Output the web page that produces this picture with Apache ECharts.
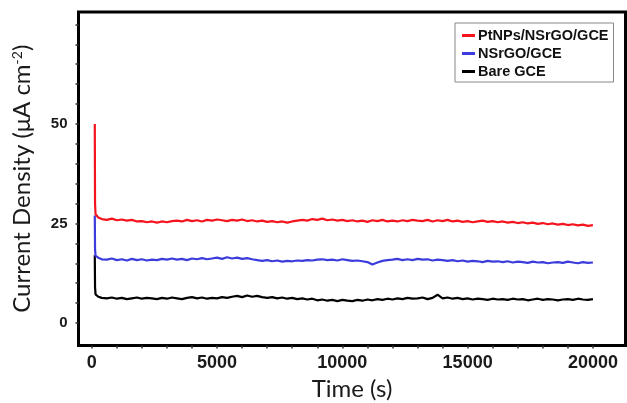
<!DOCTYPE html>
<html>
<head>
<meta charset="utf-8">
<script src="https://cdn.jsdelivr.net/npm/echarts@6/dist/echarts.min.js"></script>
<style>
html,body{margin:0;padding:0;background:#fff;}
#chart{width:627px;height:403px;}
</style>
</head>
<body>
<div id="chart"></div>
<script>
// Time (s)
var times = [120,130,150,200,260,330,400,
  600,800,1000,1200,1400,1600,1800,2000,2200,2400,
  2600,2800,3000,3200,3400,3600,3800,4000,4200,4400,
  4600,4800,5000,5200,5400,5600,5800,6000,6200,6400,
  6600,6800,7000,7200,7400,7600,7800,8000,8200,8400,
  8600,8800,9000,9200,9400,9600,9800,10000,10200,10400,
  10600,10800,11000,11200,11400,11600,11800,12000,12200,12400,
  12600,12800,13000,13200,13400,13600,13800,14000,14200,14400,
  14600,14800,15000,15200,15400,15600,15800,16000,16200,16400,
  16600,16800,17000,17200,17400,17600,17800,18000,18200,18400,
  18600,18800,19000,19200,19400,19600,19800,20000];

var seriesNames = ['PtNPs/NSrGO/GCE','NSrGO/GCE','Bare GCE'];

var ptValues = [50,30,27.3,26.8,26.5,26.3,26.1,
  25.9,26.2,25.8,26.0,25.7,25.9,25.5,25.6,25.3,25.5,
  25.2,25.5,25.3,25.6,25.7,25.5,25.9,25.6,25.8,25.5,
  25.9,25.7,26.0,25.8,25.6,25.9,25.7,26.0,25.6,25.8,
  25.5,25.7,25.4,25.6,25.3,25.5,25.2,25.5,25.7,25.9,
  25.7,26.1,25.9,26.2,25.8,26.0,25.7,25.9,25.6,25.8,
  25.5,25.7,25.4,25.8,25.6,25.9,25.5,25.7,25.5,25.8,
  25.6,25.9,25.7,25.6,25.9,25.5,25.8,25.6,25.9,25.5,
  25.7,25.4,25.6,25.3,25.5,25.7,25.4,25.6,25.3,25.5,
  25.2,25.4,25.1,25.3,25.0,25.2,24.9,25.1,24.8,25.0,
  24.7,24.9,24.6,24.8,24.5,24.7,24.4,24.6];

var nsValues = [27,18.5,16.9,16.6,16.4,16.2,16.0,
  15.9,16.2,15.8,16.0,15.7,16.1,15.8,16.0,15.7,15.9,
  15.8,16.1,15.9,16.2,15.9,16.1,15.8,16.2,16.0,16.3,
  16.0,16.2,16.4,16.1,16.5,16.2,16.4,16.1,16.3,16.0,
  15.8,15.6,15.8,15.5,15.7,15.4,15.6,15.5,15.7,15.6,
  15.8,15.7,15.9,16.0,15.8,15.9,15.7,16.0,15.8,15.6,
  15.7,15.5,15.3,14.7,15.2,15.6,15.8,15.9,16.1,15.8,
  16.0,15.8,16.1,15.9,16.0,15.7,15.9,15.8,15.6,15.8,
  15.5,15.7,15.4,15.6,15.5,15.3,15.6,15.4,15.5,15.3,
  15.5,15.2,15.4,15.3,15.1,15.4,15.2,15.3,15.0,15.2,
  15.3,15.1,15.4,15.2,15.0,15.3,15.1,15.2];

var bareValues = [17,9,7.2,6.8,6.6,6.4,6.3,
  6.2,6.4,6.1,6.3,6.0,6.2,6.4,6.1,6.3,6.2,
  6.0,6.3,6.1,6.4,6.2,6.0,6.3,6.5,6.2,6.4,
  6.1,6.3,6.2,6.5,6.3,6.6,6.8,6.5,6.9,6.6,
  6.8,6.5,6.3,6.5,6.2,6.4,6.1,6.3,6.0,6.2,
  5.9,6.1,5.7,5.9,5.6,5.8,5.5,5.8,5.6,5.5,
  5.8,5.6,5.9,5.7,6.0,5.8,6.1,5.9,6.2,6.0,
  6.3,6.1,6.2,6.4,6.0,6.3,7.1,6.2,6.4,6.1,
  6.3,6.0,6.2,5.9,6.1,6.0,5.8,6.1,5.9,6.0,
  5.8,6.1,5.9,6.0,5.7,5.9,6.1,5.8,6.0,5.9,
  5.7,5.9,6.0,5.8,6.1,5.9,5.8,6.0];

var xTickLabels = [0,5000,10000,15000,20000];
var xMinorTicks = [0,1000,2000,3000,4000,5000,6000,7000,8000,9000,10000,11000,12000,13000,14000,15000,16000,17000,18000,19000,20000];
var yTickLabels = [0,25,50];
var yMinorTicks = [0,5,10,15,20,25,30,35,40,45,50,55,60,65,70,75];

function pairs(xs, ys){ return xs.map(function(x,i){ return [x, ys[i]]; }); }

var chart = echarts.init(document.getElementById('chart'), null, {renderer:'canvas'});
var option = {
  animation: false,
  backgroundColor: '#fff',
  grid: {
    left: 78.5, right: 1.5, top: 12, bottom: 57.5,
    show: true, borderColor: '#000', borderWidth: 3,
    outerBoundsMode: 'none'
  },
  legend: {
    left: 455, top: 23, orient: 'vertical',
    width: 162,
    data: seriesNames,
    icon: 'rect', itemWidth: 13, itemHeight: 3, itemGap: 3,
    padding: [5, 5, 3, 7],
    borderColor: '#888', borderWidth: 1,
    textStyle: {fontFamily: 'Liberation Sans, Arial, sans-serif', fontWeight: 'bold', fontSize: 14.5, color: '#111', padding: [0,0,0,-2]}
  },
  xAxis: {
    type: 'value', min: -530, max: 21300,
    splitLine: {show: false},
    axisLine: {show: false, onZero: false},
    axisTick: {show: true, inside: false, length: 3, customValues: xMinorTicks, lineStyle: {color: '#333', width: 1.5}},
    axisLabel: {customValues: xTickLabels, margin: 9, formatter: function(v){ return String(v); }, fontFamily: 'Liberation Sans, Arial, sans-serif', fontWeight: 'bold', fontSize: 18, color: '#1a1a1a'},
    name: 'Time (s)', nameLocation: 'middle', nameGap: 31,
    nameTextStyle: {fontFamily: 'Lato, Open Sans, sans-serif', fontSize: 24, color: '#1a1a1a'}
  },
  yAxis: {
    type: 'value', min: -5.65, max: 78.1,
    splitLine: {show: false},
    axisLine: {show: false, onZero: false},
    axisTick: {show: true, inside: false, length: 3, customValues: yMinorTicks, lineStyle: {color: '#333', width: 1.5}},
    axisLabel: {customValues: yTickLabels, margin: 11, formatter: function(v){ return String(v); }, fontFamily: 'Liberation Sans, Arial, sans-serif', fontWeight: 'bold', fontSize: 15, color: '#1a1a1a'},
    name: '{a|Current Density (μA cm}{b|-2}{a|)}', nameLocation: 'middle', nameRotate: 90, nameGap: 44,
    nameTextStyle: {
      rich: {
        a: {fontFamily: 'Lato, Open Sans, sans-serif', fontSize: 24, color: '#1a1a1a'},
        b: {fontFamily: 'Lato, Open Sans, sans-serif', fontSize: 14, color: '#1a1a1a', verticalAlign: 'top', padding: [0,0,10,0]}
      }
    }
  },
  series: [
    {name: seriesNames[2], type: 'line', data: pairs(times, bareValues), showSymbol: false, color: '#000000', lineStyle: {width: 2.2, color: '#000000'}, z: 2},
    {name: seriesNames[1], type: 'line', data: pairs(times, nsValues), showSymbol: false, color: '#3c3cdc', lineStyle: {width: 2.2, color: '#3c3cdc'}, z: 3},
    {name: seriesNames[0], type: 'line', data: pairs(times, ptValues), showSymbol: false, color: '#f5141e', lineStyle: {width: 2.2, color: '#f5141e'}, z: 4}
  ]
};
chart.setOption(option);
</script>
</body>
</html>
